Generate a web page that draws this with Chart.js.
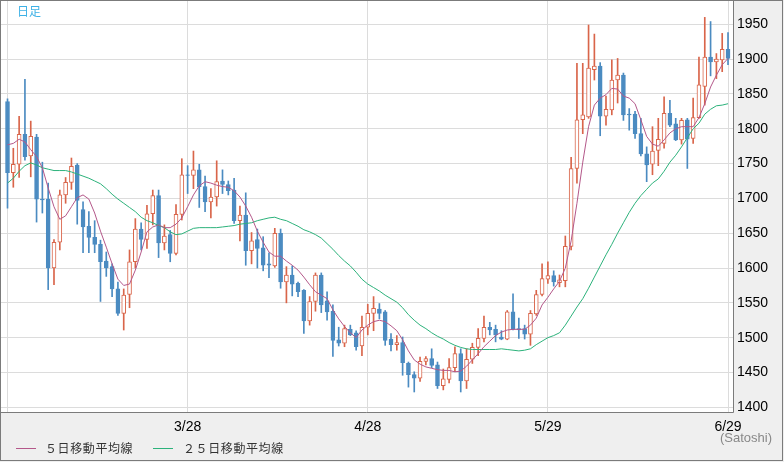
<!DOCTYPE html>
<html>
<head>
<meta charset="utf-8">
<script src="https://cdn.jsdelivr.net/npm/chart.js@4.4.0/dist/chart.umd.min.js"></script>
<style>
  html, body { margin: 0; padding: 0; background: #efefef; }
  canvas { display: block; }
</style>
</head>
<body>
<canvas id="chart" width="784" height="462"></canvas>
<script>
// daily candles, 2/25 .. 6/29 (index 0..124)
const OPEN = [1839,1737,1749,1792,1761,1788,1699,1699,1600,1637,1705,1723,1748,1684,1660,1644,1634,1610,1602,1570,
  1535,1562,1609,1656,1641,1678,1704,1636,1648,1621,1677,1734,1733,1741,1717,1695,1702,1725,1720,1712,
  1668,1676,1625,1641,1629,1606,1603,1650,1580,1590,1578,1568,1524,1552,1590,1553,1538,1497,1492,1512,
  1507,1488,1515,1535,1541,1537,1498,1490,1493,1463,1447,1442,1466,1470,1461,1431,1440,1457,1477,1438,
  1469,1486,1499,1515,1512,1501,1498,1537,1513,1513,1505,1534,1562,1584,1589,1579,1582,1631,1743,1813,
  1817,1885,1890,1818,1827,1870,1877,1821,1821,1793,1764,1749,1769,1779,1822,1807,1784,1813,1786,1816,
  1861,1903,1896,1899,1914];
const HIGH = [1843,1772,1818,1871,1811,1792,1752,1722,1641,1712,1730,1758,1750,1695,1681,1668,1640,1623,1606,1580,
  1570,1626,1671,1665,1690,1712,1712,1662,1654,1691,1757,1747,1768,1749,1732,1714,1754,1741,1725,1729,
  1689,1708,1651,1656,1645,1622,1657,1656,1602,1603,1580,1569,1559,1593,1593,1566,1547,1515,1518,1518,
  1510,1531,1548,1559,1549,1539,1506,1503,1501,1465,1451,1472,1473,1484,1465,1455,1470,1487,1484,1484,
  1492,1513,1531,1522,1518,1510,1539,1563,1528,1518,1539,1568,1606,1609,1596,1590,1646,1759,1894,1894,
  1949,1936,1895,1847,1899,1901,1880,1829,1825,1815,1774,1803,1815,1846,1841,1815,1815,1815,1844,1903,
  1960,1954,1908,1937,1938];
const LOW = [1686,1716,1730,1755,1731,1666,1679,1569,1576,1626,1693,1713,1663,1622,1622,1622,1552,1588,1559,1532,
  1511,1543,1600,1626,1628,1662,1615,1626,1609,1619,1669,1707,1714,1687,1681,1672,1689,1707,1705,1664,
  1639,1604,1606,1600,1596,1586,1601,1571,1550,1560,1559,1506,1518,1538,1536,1525,1473,1488,1487,1503,
  1482,1474,1504,1510,1527,1489,1481,1482,1446,1429,1422,1437,1461,1457,1427,1425,1435,1451,1422,1427,
  1463,1474,1494,1504,1494,1497,1497,1511,1499,1498,1489,1532,1560,1578,1574,1573,1573,1626,1722,1793,
  1815,1870,1790,1805,1820,1837,1812,1798,1786,1761,1724,1734,1747,1772,1803,1783,1778,1743,1779,1815,
  1834,1876,1872,1882,1892];
const CLOSE = [1737,1749,1792,1760,1789,1699,1698,1600,1637,1705,1723,1746,1697,1659,1644,1634,1609,1600,1570,1535,
  1561,1609,1656,1641,1678,1704,1636,1646,1621,1677,1734,1733,1741,1717,1695,1702,1724,1720,1711,1668,
  1676,1625,1639,1628,1604,1604,1650,1580,1590,1577,1566,1524,1552,1590,1547,1537,1496,1492,1513,1504,
  1487,1515,1535,1542,1535,1496,1490,1493,1464,1447,1442,1466,1470,1460,1431,1441,1457,1477,1438,1469,
  1486,1499,1515,1511,1504,1498,1537,1512,1511,1505,1535,1562,1585,1589,1580,1583,1631,1743,1813,1820,
  1887,1890,1818,1828,1870,1877,1820,1820,1793,1764,1748,1768,1785,1822,1805,1784,1812,1785,1816,1863,
  1903,1896,1900,1914,1901];
// moving averages as drawn
const MA5 = [1777,1779,1785,1781,1770,1760,1744,1715,1688,1670,1675,1688,1701,1705,1699,1679,1653,1630,1606,1584,
  1575,1577,1597,1623,1652,1659,1662,1658,1658,1663,1672,1688,1705,1718,1724,1722,1719,1717,1716,1711,
  1702,1689,1673,1653,1637,1623,1617,1617,1610,1604,1597,1587,1576,1566,1561,1556,1540,1527,1516,1507,
  1500,1511,1518,1523,1525,1523,1517,1510,1497,1481,1468,1462,1458,1456,1454,1453,1453,1451,1452,1459,
  1468,1477,1487,1495,1503,1508,1511,1512,1512,1512,1518,1528,1547,1558,1570,1581,1600,1639,1693,1752,
  1803,1834,1844,1849,1858,1857,1847,1844,1836,1813,1789,1778,1775,1784,1794,1800,1803,1803,1803,1816,
  1836,1860,1877,1892,1901];
const MA25 = [1722,1729,1739,1747,1751,1748,1744,1742,1740,1740,1740,1738,1735,1732,1729,1725,1721,1714,1706,1699,
  1693,1687,1681,1673,1668,1665,1661,1658,1652,1648,1649,1653,1657,1658,1658,1658,1658,1659,1660,1661,
  1663,1664,1665,1668,1670,1672,1673,1670,1668,1664,1660,1655,1652,1648,1643,1635,1627,1618,1610,1603,
  1594,1584,1577,1572,1567,1561,1556,1551,1543,1533,1525,1518,1513,1507,1502,1498,1493,1489,1486,1484,
  1483,1483,1483,1483,1483,1484,1483,1482,1481,1482,1484,1490,1495,1500,1503,1507,1518,1531,1544,1556,
  1571,1587,1603,1619,1634,1650,1665,1680,1693,1704,1713,1722,1728,1739,1752,1762,1774,1787,1800,1808,
  1821,1828,1833,1834,1836];

const TICK_POS = [0, 31, 62, 93, 124];
const TICK_LABELS = ['', '3/28', '4/28', '5/29', '6/29'];
const Y_TICKS = [1400, 1450, 1500, 1550, 1600, 1650, 1700, 1750, 1800, 1850, 1900, 1950];

const UP = '#d9654a';
const DOWN = '#4b8bc1';
const C_MA5 = '#b4588a';
const C_MA25 = '#2cb27b';

const isUp = OPEN.map((o, i) => CLOSE[i] >= o);

const frame = {
  id: 'frame',
  beforeDraw(chart) {
    const {ctx, chartArea: a} = chart;
    ctx.save();
    ctx.fillStyle = '#efefef';
    ctx.fillRect(0, 0, chart.width, chart.height);
    ctx.fillStyle = '#ffffff';
    ctx.fillRect(0, 0, a.right, a.bottom);
    ctx.restore();
  },
  afterDraw(chart) {
    const {ctx, chartArea: a} = chart;
    ctx.save();
    ctx.strokeStyle = '#7b7b7b';
    ctx.lineWidth = 1;
    ctx.beginPath();
    ctx.moveTo(a.right - 0.5, 0);
    ctx.lineTo(a.right - 0.5, a.bottom + 0.5);
    ctx.lineTo(0, a.bottom + 0.5);
    ctx.stroke();
    ctx.strokeRect(0.5, 0.5, 782, 460);

    ctx.textBaseline = 'middle';
    ctx.font = '12px "Noto Sans CJK JP"';
    ctx.fillStyle = '#3db1e6';
    ctx.fillText('日足', 17, 11);

    // legend
    ctx.lineWidth = 1;
    ctx.strokeStyle = C_MA5;
    ctx.beginPath(); ctx.moveTo(16, 448.5); ctx.lineTo(36, 448.5); ctx.stroke();
    ctx.strokeStyle = C_MA25;
    ctx.beginPath(); ctx.moveTo(153, 448.5); ctx.lineTo(173, 448.5); ctx.stroke();
    ctx.fillStyle = '#333';
    ctx.letterSpacing = '0.6px';
    ctx.fillText('５日移動平均線', 45, 448);
    ctx.fillText('２５日移動平均線', 183, 448);
    ctx.letterSpacing = '0px';

    ctx.font = '13px "Liberation Sans", Arial, sans-serif';
    ctx.fillStyle = '#888';
    ctx.fillText('(Satoshi)', 720, 438);
    ctx.restore();
  }
};

Chart.defaults.font.family = '"Liberation Sans", Arial, sans-serif';

new Chart(document.getElementById('chart'), {
  type: 'bar',
  data: {
    datasets: [
      {
        type: 'line',
        data: MA5.map((v, i) => ({x: i, y: v})),
        borderColor: C_MA5,
        borderWidth: 1,
        pointRadius: 0,
        order: 0
      },
      {
        type: 'line',
        data: MA25.map((v, i) => ({x: i, y: v})),
        borderColor: C_MA25,
        borderWidth: 1,
        pointRadius: 0,
        order: 1
      },
      {
        data: OPEN.map((o, i) => ({x: i, y: [o, CLOSE[i]]})),
        backgroundColor: isUp.map(u => u ? '#ffffff' : DOWN),
        borderColor: isUp.map(u => u ? UP : DOWN),
        borderWidth: 1,
        borderSkipped: false,
        barThickness: 4,
        grouped: false,
        order: 2
      },
      {
        data: OPEN.map((o, i) => ({x: i, y: [LOW[i], HIGH[i]]})),
        backgroundColor: isUp.map(u => u ? UP : DOWN),
        borderWidth: 0,
        barThickness: 1,
        grouped: false,
        order: 3
      }
    ]
  },
  options: {
    responsive: false,
    animation: false,
    layout: {padding: {left: 1, top: 1, right: 0, bottom: 0}},
    plugins: {
      legend: {display: false},
      tooltip: {enabled: false}
    },
    scales: {
      x: {
        type: 'linear',
        offset: false,
        min: -1.12,
        max: 125.03,
        afterBuildTicks: s => { s.ticks = TICK_POS.map(v => ({value: v})); },
        afterFit: s => { s.height = 50; s.paddingLeft = 0; s.paddingRight = 0; },
        grid: {color: '#dcdcdc', drawTicks: false, offset: false},
        border: {display: false},
        ticks: {
          autoSkip: false,
          maxRotation: 0,
          padding: 7,
          color: '#000',
          font: {size: 14},
          callback: v => TICK_LABELS[TICK_POS.indexOf(v)]
        }
      },
      y: {
        position: 'right',
        min: 1393.25,
        max: 1983.5,
        afterBuildTicks: s => { s.ticks = Y_TICKS.map(v => ({value: v})); },
        afterFit: s => { s.width = 50; s.paddingTop = 0; s.paddingBottom = 0; },
        grid: {color: '#dcdcdc', drawTicks: false},
        border: {display: false},
        ticks: {
          padding: 3,
          color: '#000',
          font: {size: 14},
          callback: v => String(v)
        }
      }
    }
  },
  plugins: [frame]
});
</script>
</body>
</html>
